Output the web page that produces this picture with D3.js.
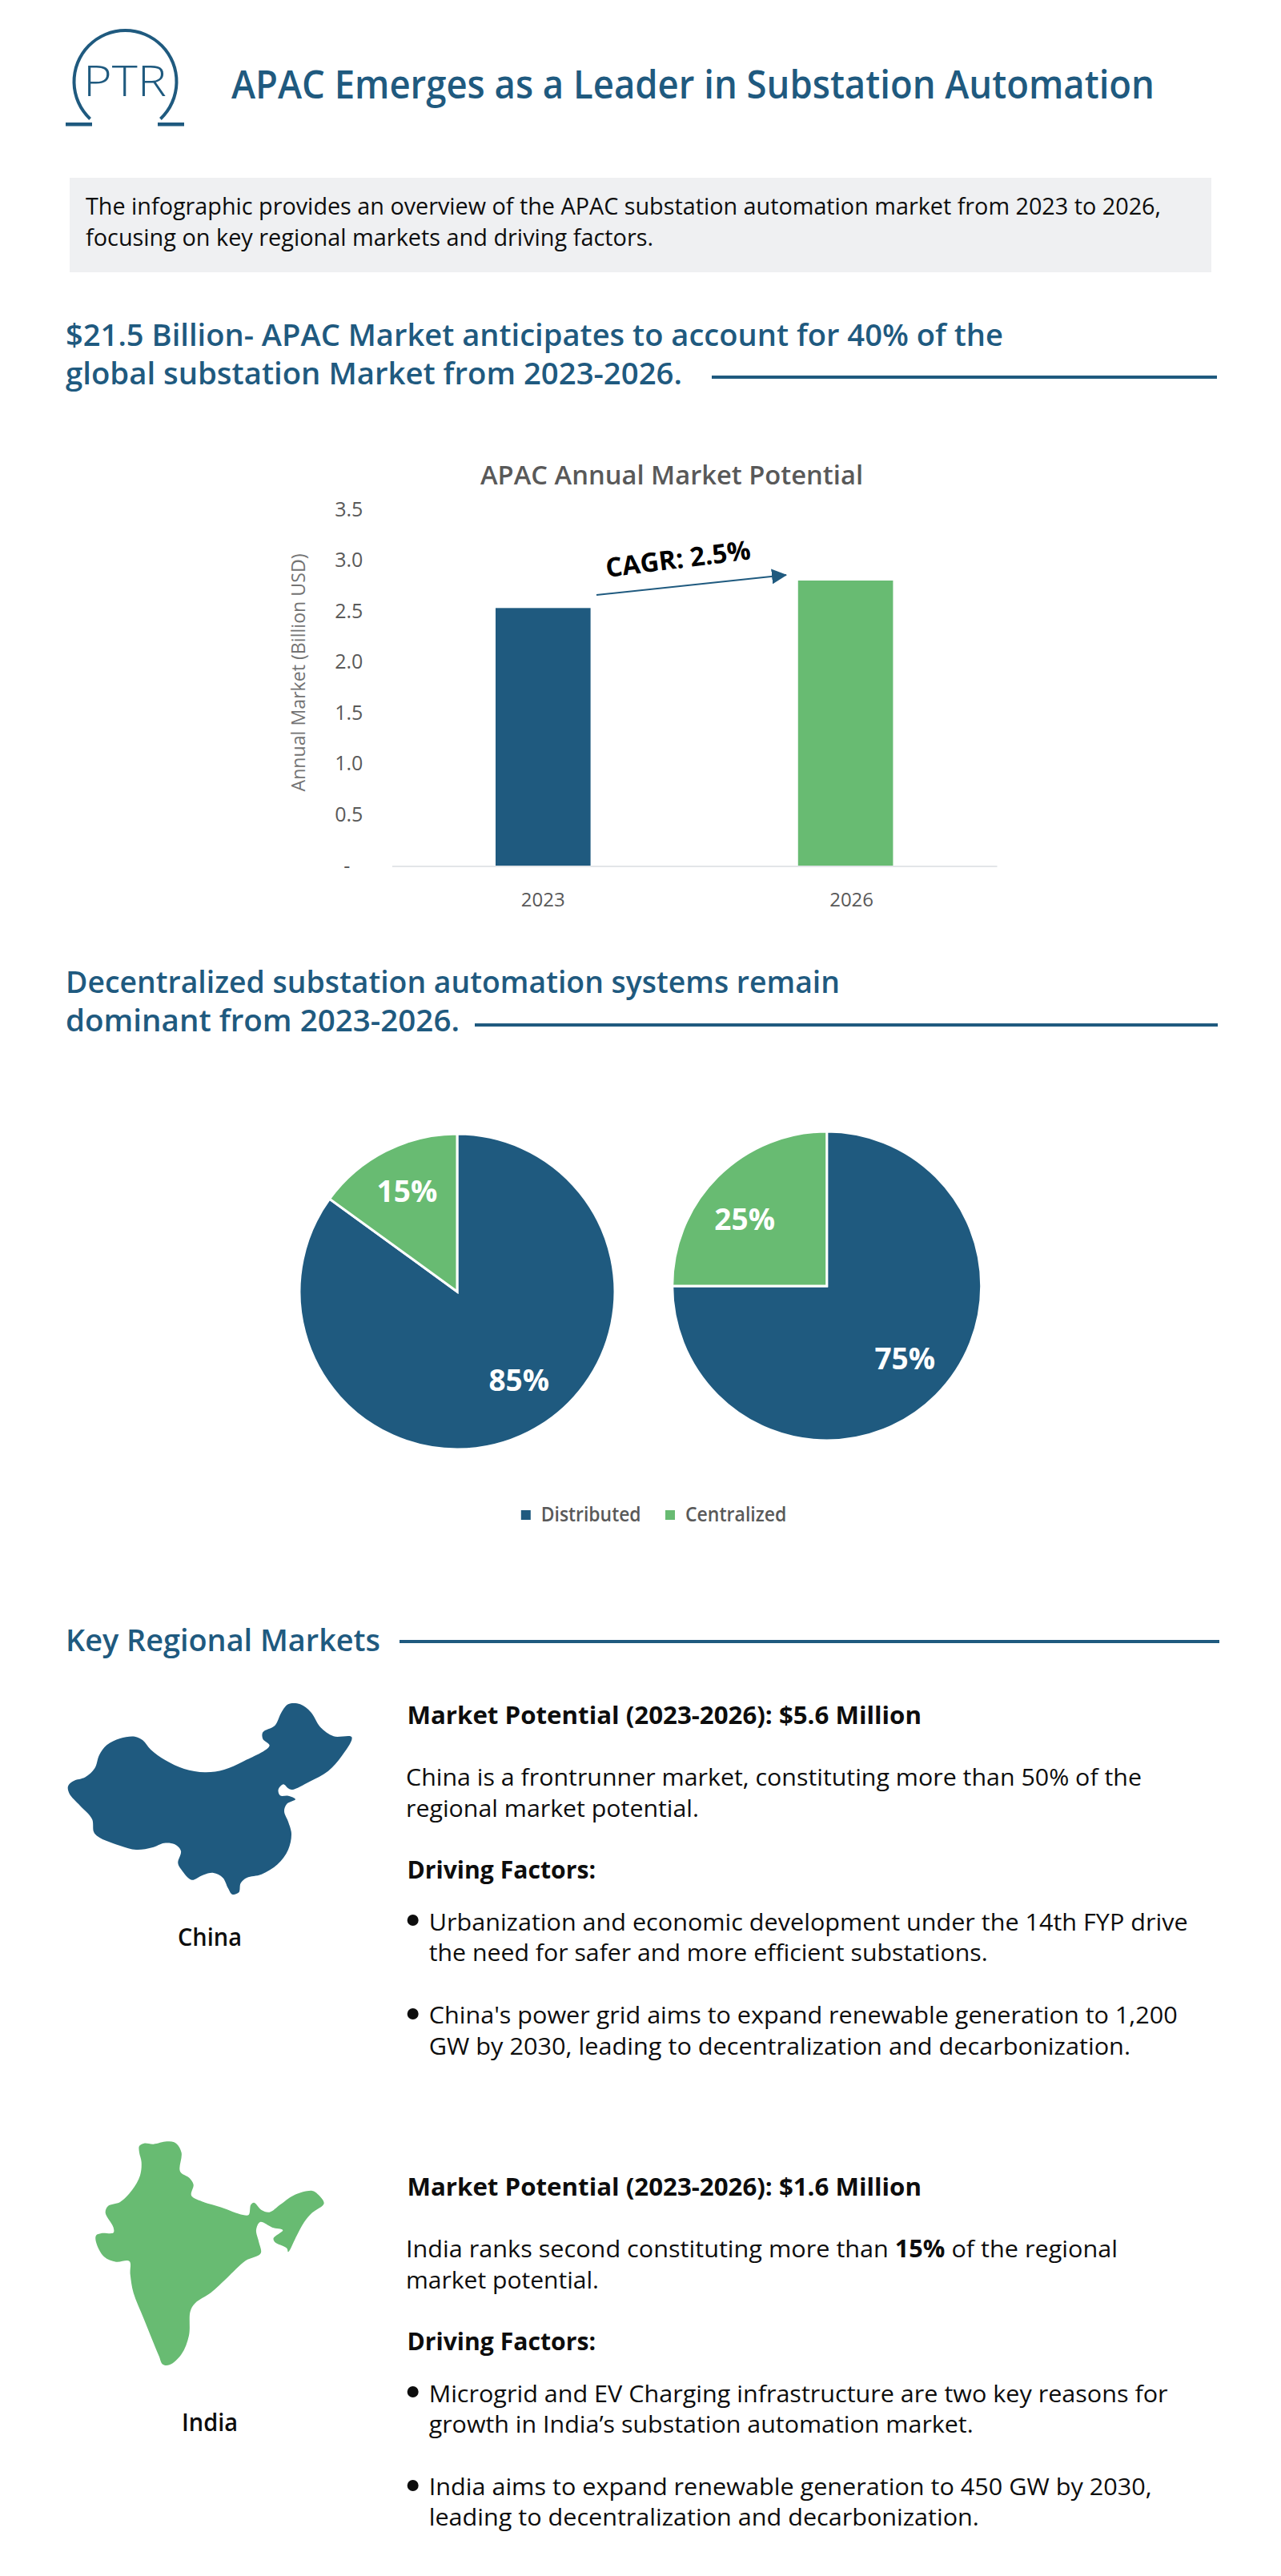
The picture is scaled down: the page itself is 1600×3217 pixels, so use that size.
<!DOCTYPE html>
<html>
<head>
<meta charset="utf-8">
<script src="https://cdn.jsdelivr.net/npm/d3@7"></script>
<style>
  html, body { margin: 0; padding: 0; background: #fff; }
  svg { display: block; }
  text { font-family: "Open Sans", "Noto Sans", sans-serif; }
</style>
</head>
<body>
<svg id="page" width="1600" height="3217" viewBox="0 0 1600 3217"></svg>
<script>
// chart values
const marketYears = ["2023", "2026"];
const marketValues = [2.53, 2.8];
const marketTicks = [0, 0.5, 1, 1.5, 2, 2.5, 3, 3.5];

const shareSeries = ["Distributed", "Centralized"];
const shareFirst = [85, 15];
const shareSecond = [75, 25];

// copy
const titleText = "APAC Emerges as a Leader in Substation Automation";
const introLines = [
    "The infographic provides an overview of the APAC substation automation market from 2023 to 2026,",
    "focusing on key regional markets and driving factors."
];
const headingMarket = [
    "$21.5 Billion- APAC Market anticipates to account for 40% of the",
    "global substation Market from 2023-2026."
];
const headingShare = [
    "Decentralized substation automation systems remain",
    "dominant from 2023-2026."
];
const headingRegions = "Key Regional Markets";
const chartTitle = "APAC Annual Market Potential";
const yAxisTitle = "Annual Market (Billion USD)";
const cagrLabel = "CAGR: 2.5%";
const driversLabel = "Driving Factors:";

const chinaPotential = "Market Potential (2023-2026): $5.6 Million";
const chinaIntro = [
    "China is a frontrunner market, constituting more than 50% of the",
    "regional market potential."
];
const chinaBullets = [
    "Urbanization and economic development under the 14th FYP drive",
    "the need for safer and more efficient substations.",
    "China's power grid aims to expand renewable generation to 1,200",
    "GW by 2030, leading to decentralization and decarbonization."
];
const indiaPotential = "Market Potential (2023-2026): $1.6 Million";
const indiaIntroParts = ["India ranks second constituting more than ", "15%", " of the regional"];
const indiaIntroEnd = "market potential.";
const indiaBullets = [
    "Microgrid and EV Charging infrastructure are two key reasons for",
    "growth in India\u2019s substation automation market.",
    "India aims to expand renewable generation to 450 GW by 2030,",
    "leading to decentralization and decarbonization."
];

// map silhouettes, traced in icon units (3 units = 1px)
const chinaOutline = [
    [105,392],[125,373],[170,358],[205,325],[222,275],[250,238],[300,213],[355,206],[385,220],[415,255],
    [470,295],[540,327],[620,340],[690,330],[760,300],[860,240],[835,215],[835,190],[880,165],[905,115],
    [930,85],[975,85],[1015,115],[1050,170],[1100,205],[1168,208],[1130,280],[1080,335],[1010,375],[945,405],
    [930,400],[912,385],[893,405],[900,427],[930,428],[957,441],[925,458],[915,485],[930,525],[942,570],
    [930,630],[890,685],[830,722],[775,735],[752,755],[745,790],[720,797],[705,775],[685,735],[650,717],
    [610,725],[568,743],[530,705],[517,680],[528,635],[505,610],[465,605],[420,622],[360,630],[300,615],
    [205,570],[195,515],[150,465],[110,420]
];
const indiaOutline = [
    [312,60],[330,50],[365,53],[415,43],[450,50],[470,85],[465,155],[500,180],[515,205],[507,245],
    [540,265],[620,290],[700,318],[722,318],[730,280],[742,272],[770,300],[800,308],[840,280],[890,245],
    [960,228],[980,240],[1004,275],[960,310],[930,345],[900,400],[870,457],[865,443],[820,420],[815,405],
    [850,375],[810,365],[765,345],[750,375],[760,420],[767,462],[710,490],[640,555],[580,610],[520,650],
    [503,680],[498,770],[470,840],[425,880],[400,878],[385,845],[330,710],[290,610],[278,540],[275,492],
    [225,494],[180,475],[150,420],[150,395],[170,387],[215,385],[215,365],[185,310],[195,285],[240,270],
    [285,225],[315,170],[320,120],[312,85]
];

const BLUE = "#1f5a7f";
const GREEN = "#68bb72";
const GREY = "#595959";
const INK = "#0d0d0d";

const svg = d3.select("#page");

// text line squeezed to the measured run of the reference
function addLine(str, x, y, endX, size, weight, fill) {
    const t = svg.append("text")
        .attr("x", x)
        .attr("y", y)
        .attr("font-size", size)
        .attr("font-weight", weight)
        .attr("fill", fill)
        .text(str);
    if (endX) {
        t.attr("textLength", endX - x).attr("lengthAdjust", "spacingAndGlyphs");
    }
    return t;
}

function addRule(x1, x2, y) {
    svg.append("line")
        .attr("x1", x1).attr("x2", x2)
        .attr("y1", y).attr("y2", y)
        .attr("stroke", BLUE)
        .attr("stroke-width", 4);
}

// logo
const logo = svg.append("g");
const logoArc = d3.arc()
    .innerRadius(62)
    .outerRadius(66)
    .startAngle(-2.385)
    .endAngle(2.385);
logo.append("path")
    .attr("transform", "translate(156.5,102)")
    .attr("d", logoArc())
    .attr("fill", BLUE);
logo.selectAll("rect")
    .data([82, 197])
    .join("rect")
    .attr("x", (d) => d)
    .attr("y", 153)
    .attr("width", 33)
    .attr("height", 4.5)
    .attr("fill", BLUE);
addLine("PTR", 104, 120, 208, 53, 300, BLUE);

// title and intro
addLine(titleText, 289, 123, 1442, 48, 600, BLUE);
svg.append("rect")
    .attr("x", 87).attr("y", 222)
    .attr("width", 1426).attr("height", 118)
    .attr("fill", "#eff0f2");
addLine(introLines[0], 107, 268, 1450, 29, 400, INK);
addLine(introLines[1], 107, 307, 816, 29, 400, INK);

// section headings
addLine(headingMarket[0], 82, 432, 1253, 38, 600, BLUE);
addLine(headingMarket[1], 82, 480, 852, 38, 600, BLUE);
addRule(889, 1520, 471);

addLine(headingShare[0], 82, 1240, 1049, 38, 600, BLUE);
addLine(headingShare[1], 82, 1288, 574, 38, 600, BLUE);
addRule(593, 1521, 1280);

addLine(headingRegions, 82, 2062, 475, 38, 600, BLUE);
addRule(499, 1523, 2050);

// bar chart
const x = d3.scaleBand()
    .domain(marketYears)
    .range([489.4, 1245])
    .paddingInner(0.686)
    .paddingOuter(0.343);
const y = d3.scaleLinear()
    .domain([0, 3.5])
    .range([1081, 636]);

addLine(chartTitle, 600, 605, 1078, 32, 600, GREY);

svg.selectAll(".bar")
    .data(marketYears)
    .join("rect")
    .attr("class", "bar")
    .attr("x", (d) => x(d))
    .attr("y", (d, i) => y(marketValues[i]))
    .attr("width", x.bandwidth())
    .attr("height", (d, i) => y(0) - y(marketValues[i]))
    .attr("fill", (d, i) => (i === 0 ? BLUE : GREEN));

const yAxis = svg.append("g")
    .attr("transform", "translate(489.4,0)")
    .call(d3.axisLeft(y)
        .tickValues(marketTicks)
        .tickSize(0)
        .tickPadding(36)
        .tickFormat((d) => (d === 0 ? "-" : d3.format(".1f")(d))));
yAxis.select(".domain").remove();
yAxis.selectAll("text")
    .attr("font-size", 25)
    .attr("fill", GREY)
    .attr("font-family", null)
    .attr("dx", (d) => (d === 0 ? -16 : 0));

const xAxis = svg.append("g")
    .attr("transform", "translate(0,1081.5)")
    .call(d3.axisBottom(x).tickSize(0).tickPadding(33));
xAxis.select(".domain")
    .attr("stroke", "#e3e5e8")
    .attr("stroke-width", 2);
xAxis.selectAll("text")
    .attr("font-size", 24)
    .attr("fill", GREY)
    .attr("font-family", null)
    .attr("dx", (d) => (d === "2026" ? 7.5 : 0));

svg.append("text")
    .attr("transform", "translate(381,840) rotate(-90)")
    .attr("text-anchor", "middle")
    .attr("font-size", 24)
    .attr("fill", "#737373")
    .attr("textLength", 297)
    .attr("lengthAdjust", "spacingAndGlyphs")
    .text(yAxisTitle);

// CAGR annotation
svg.append("defs").append("marker")
    .attr("id", "arrowHead")
    .attr("markerUnits", "userSpaceOnUse")
    .attr("viewBox", "0 0 19 19")
    .attr("markerWidth", 19)
    .attr("markerHeight", 19)
    .attr("refX", 18)
    .attr("refY", 9.5)
    .attr("orient", "auto")
    .append("path")
    .attr("d", "M0,0L19,9.5L0,19Z")
    .attr("fill", BLUE);
svg.append("line")
    .attr("x1", 745).attr("y1", 743)
    .attr("x2", 982).attr("y2", 718)
    .attr("stroke", BLUE)
    .attr("stroke-width", 2)
    .attr("marker-end", "url(#arrowHead)");
svg.append("text")
    .attr("transform", "translate(758,721) rotate(-7.2)")
    .attr("font-size", 33)
    .attr("font-weight", 700)
    .attr("fill", "#000")
    .attr("textLength", 182)
    .attr("lengthAdjust", "spacingAndGlyphs")
    .text(cagrLabel);

// share pies
const pieLayout = d3.pie().sort(null);
const sharePies = [
    {values: shareFirst, cx: 571, cy: 1613, r: 197, nudge: [[14.6, -13], [0, -4]]},
    {values: shareSecond, cx: 1032.7, cy: 1606, r: 193, nudge: [[2, -6], [-7, 11]]}
];
sharePies.forEach((pie) => {
    const arc = d3.arc().innerRadius(0).outerRadius(pie.r);
    const labelArc = d3.arc().innerRadius(pie.r * 0.7).outerRadius(pie.r * 0.7);
    const g = svg.append("g").attr("transform", `translate(${pie.cx},${pie.cy})`);
    const slices = pieLayout(pie.values);
    g.selectAll("path")
        .data(slices)
        .join("path")
        .attr("d", arc)
        .attr("fill", (d, i) => (i === 0 ? BLUE : GREEN))
        .attr("stroke", "#fff")
        .attr("stroke-width", 3);
    g.selectAll("text")
        .data(slices)
        .join("text")
        .attr("x", (d, i) => labelArc.centroid(d)[0] + pie.nudge[i][0])
        .attr("y", (d, i) => labelArc.centroid(d)[1] + pie.nudge[i][1])
        .attr("text-anchor", "middle")
        .attr("dominant-baseline", "central")
        .attr("font-size", 37)
        .attr("font-weight", 700)
        .attr("fill", "#fff")
        .text((d) => `${d.value}%`);
});

// pie legend
const legendSwatch = d3.scaleOrdinal().domain(shareSeries).range([650.8, 831]);
const legendEnd = d3.scaleOrdinal().domain(shareSeries).range([800.6, 982.4]);
svg.selectAll(".swatch")
    .data(shareSeries)
    .join("rect")
    .attr("class", "swatch")
    .attr("x", (d) => legendSwatch(d))
    .attr("y", 1886)
    .attr("width", 12)
    .attr("height", 12)
    .attr("fill", (d, i) => (i === 0 ? BLUE : GREEN));
shareSeries.forEach((s) => {
    addLine(s, legendSwatch(s) + 25, 1900, legendEnd(s), 25, 600, GREY);
});

// regional maps
const outline = d3.line().curve(d3.curveCatmullRomClosed.alpha(0.5));
svg.append("path")
    .attr("transform", "translate(50,2100) scale(0.3333)")
    .attr("d", outline(chinaOutline))
    .attr("fill", BLUE);
svg.append("path")
    .attr("transform", "translate(70,2660) scale(0.3333)")
    .attr("d", outline(indiaOutline))
    .attr("fill", GREEN);
addLine("China", 222, 2430, 302, 31, 600, INK);
addLine("India", 227, 3036, 297, 31, 600, INK);

// regional copy
function addBullet(y) {
    svg.append("circle")
        .attr("cx", 515.7).attr("cy", y).attr("r", 7)
        .attr("fill", INK);
}

addLine(chinaPotential, 508.5, 2153, 1151, 30, 700, INK);
addLine(chinaIntro[0], 507, 2230, 1426, 30, 400, INK);
addLine(chinaIntro[1], 507, 2269, 873, 30, 400, INK);
addLine(driversLabel, 508.5, 2346, 744, 30, 700, INK);
addBullet(2398);
addLine(chinaBullets[0], 535.7, 2411, 1483.6, 30, 400, INK);
addLine(chinaBullets[1], 535.7, 2449, 1233.6, 30, 400, INK);
addBullet(2515);
addLine(chinaBullets[2], 535.7, 2527, 1470.7, 30, 400, INK);
addLine(chinaBullets[3], 535.7, 2566, 1412, 30, 400, INK);

addLine(indiaPotential, 508.5, 2742, 1151, 30, 700, INK);
const indiaIntroLine = addLine("", 507, 2819, 1396, 30, 400, INK);
indiaIntroParts.forEach((part, i) => {
    indiaIntroLine.append("tspan")
        .attr("font-weight", i === 1 ? 700 : 400)
        .text(part);
});
addLine(indiaIntroEnd, 507, 2858, 748, 30, 400, INK);
addLine(driversLabel, 508.5, 2935, 744, 30, 700, INK);
addBullet(2987);
addLine(indiaBullets[0], 535.7, 3000, 1458.6, 30, 400, INK);
addLine(indiaBullets[1], 535.7, 3038, 1215.7, 30, 400, INK);
addBullet(3104);
addLine(indiaBullets[2], 535.7, 3116, 1438.6, 30, 400, INK);
addLine(indiaBullets[3], 535.7, 3154, 1222.9, 30, 400, INK);
</script>
</body>
</html>
